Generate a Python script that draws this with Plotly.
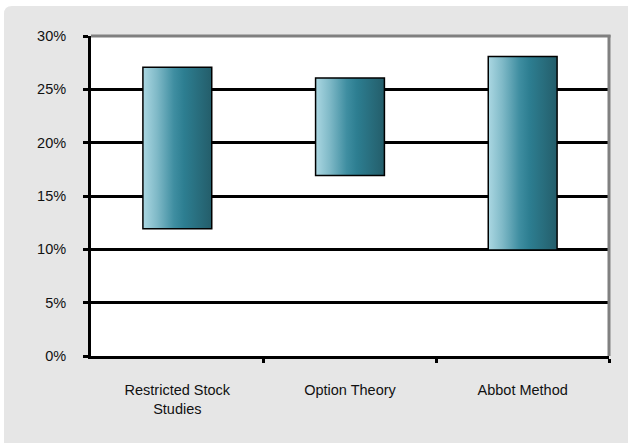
import plotly.graph_objects as go

# Ranges of implied discount rates by valuation approach
categories = ["Restricted Stock<br>Studies", "Option Theory", "Abbot Method"]
low_pct = [12, 17, 10]
high_pct = [27, 26, 28]
y_ticks = [0, 5, 10, 15, 20, 25, 30]

BAR_W = 0.39
W, H = 628, 443
L, R, T, B = 91, 19, 36, 87
pw, ph = W - L - R, H - T - B

fig = go.Figure()

# gradient-filled bodies of the floating bars
for i, (lo, hi) in enumerate(zip(low_pct, high_pct)):
    x0, x1 = i - BAR_W / 2, i + BAR_W / 2
    fig.add_trace(go.Scatter(
        x=[x0, x1, x1, x0, x0], y=[lo, lo, hi, hi, lo],
        mode="lines", line=dict(width=0), fill="toself",
        fillgradient=dict(type="horizontal", colorscale=[
            [0.0, "#a9d6e1"], [0.2, "#7fb9c7"], [0.45, "#3f8ea1"],
            [0.6, "#2d7e91"], [1.0, "#245e6b"]]),
        hoverinfo="skip", showlegend=False))

# outlines of the floating bars
fig.add_trace(go.Bar(
    x=list(range(len(categories))),
    y=[h - l for l, h in zip(low_pct, high_pct)],
    base=low_pct, width=BAR_W,
    marker=dict(color="rgba(0,0,0,0)", line=dict(color="#000000", width=3)),
    showlegend=False))

# outer rounded panel and white plot area
rx, ry = 8 / pw, 8 / ph
px0, px1 = (4 - L) / pw, (W - L) / pw + 0.01
py1, py0 = (H - B - 6) / ph, -(B + 2) / ph
panel_path = (f"M {px0 + rx},{py1} L {px1},{py1} L {px1},{py0} L {px0},{py0} "
              f"L {px0},{py1 - ry} Q {px0},{py1} {px0 + rx},{py1} Z")
shapes = [
    dict(type="path", xref="paper", yref="paper", path=panel_path,
         fillcolor="#e6e6e6", line=dict(width=0), layer="below"),
    dict(type="rect", xref="paper", yref="paper", x0=0, x1=1, y0=0, y1=1,
         fillcolor="#ffffff", line=dict(width=0), layer="below"),
    dict(type="line", xref="paper", yref="paper", x0=0, x1=1.003, y0=1, y1=1,
         line=dict(color="#808080", width=3)),
    dict(type="line", xref="paper", yref="paper", x0=1, x1=1, y0=0, y1=1.003,
         line=dict(color="#808080", width=3)),
]

font = dict(family="Liberation Sans, Arial, sans-serif", size=14.5, color="#111111")

fig.update_layout(
    width=W, height=H,
    margin=dict(l=L, r=R, t=T, b=B),
    paper_bgcolor="#ffffff", plot_bgcolor="#ffffff",
    font=font, shapes=shapes, bargap=0.6,
    xaxis=dict(range=[-0.5, 2.5], tickvals=list(range(len(categories))),
               ticktext=categories, ticks="", showgrid=False, zeroline=False,
               showline=True, linecolor="#000000", linewidth=3,
               ticklabelstandoff=19, fixedrange=True,
               minor=dict(tickmode="array", tickvals=[0.5, 1.5, 2.5],
                          ticks="outside", ticklen=4, tickwidth=3,
                          tickcolor="#000000", showgrid=False)),
    yaxis=dict(range=[0, 30], tickvals=y_ticks,
               ticktext=[f"{v}%" for v in y_ticks],
               ticks="outside", ticklen=5, tickwidth=3, tickcolor="#000000",
               showgrid=True, gridcolor="#000000", gridwidth=3,
               zeroline=False, showline=True, linecolor="#000000", linewidth=3,
               ticklabelstandoff=14, fixedrange=True),
)

fig.write_html("out.html")
